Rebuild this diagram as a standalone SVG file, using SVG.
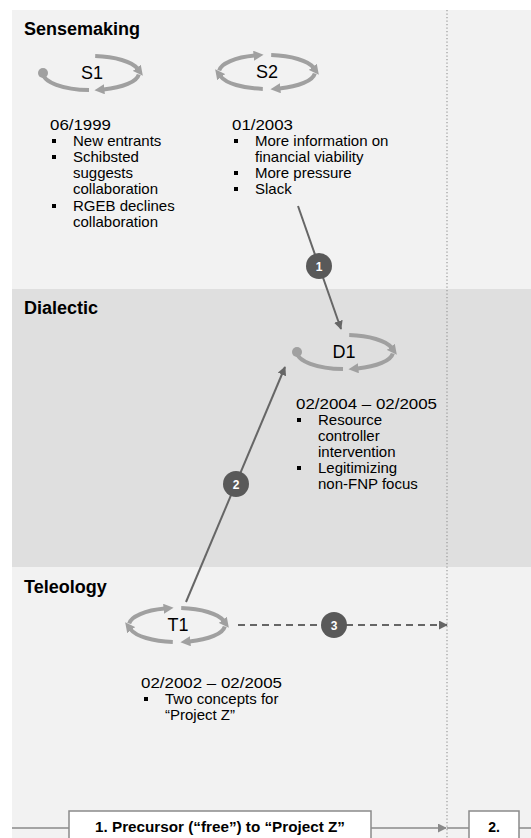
<svg xmlns="http://www.w3.org/2000/svg" width="531" height="838" viewBox="0 0 531 838">
  <style>
    .band-light { fill: #f2f2f2; }
    .band-dark { fill: #dfdfdf; }
    .title { font-family: "Liberation Sans", Arial, sans-serif; font-size: 18px; font-weight: bold; fill: #000; }
    .node-label { font-family: "Liberation Sans", Arial, sans-serif; font-size: 18px; fill: #000; text-anchor: middle; }
    .body { font-family: "Liberation Sans", Arial, sans-serif; font-size: 15px; fill: #000; }
    .bullet { fill: #000; }
    .cycle { fill: none; stroke: #a0a0a0; stroke-width: 4; }
    .cycle-dot { fill: #a0a0a0; }
    .conn { fill: none; stroke: #666; stroke-width: 2; }
    .conn-dash { stroke-dasharray: 7 5; }
    .badge { fill: #595959; }
    .badge-text { font-family: "Liberation Sans", Arial, sans-serif; font-size: 12px; font-weight: bold; fill: #fff; text-anchor: middle; }
    .timeline { fill: none; stroke: #8a8a8a; stroke-width: 1.5; }
    .phase-box { fill: #fff; stroke: #8a8a8a; stroke-width: 1.5; }
    .phase-text { font-family: "Liberation Sans", Arial, sans-serif; font-size: 14px; font-weight: bold; fill: #000; text-anchor: middle; }
    .divider { stroke: #9a9a9a; stroke-width: 1.2; stroke-dasharray: 1.3 2.2; }
  </style>
  <defs>
    <marker id="cycle-head" viewBox="0 0 10 10" refX="1" refY="5" markerWidth="10" markerHeight="10" markerUnits="userSpaceOnUse" orient="auto">
      <path d="M0,0 L10,5 L0,10 z" fill="#a0a0a0"/>
    </marker>
    <marker id="conn-head" viewBox="0 0 10 10" refX="9" refY="5" markerWidth="9" markerHeight="9" markerUnits="userSpaceOnUse" orient="auto">
      <path d="M0,0 L10,5 L0,10 z" fill="#666"/>
    </marker>
    <marker id="time-head" viewBox="0 0 10 10" refX="9" refY="5" markerWidth="9" markerHeight="9" markerUnits="userSpaceOnUse" orient="auto">
      <path d="M0,0 L10,5 L0,10 z" fill="#8a8a8a"/>
    </marker>
    <!-- quarter arcs of a cycle, centred on 0,0 (rx 48, ry 17) -->
    <path id="arc-ul" d="M-47.8,-1.5 A48,17 0 0 1 -12.4,-16.4"/>
    <path id="arc-ur" d="M4.2,-16.9 A48,17 0 0 1 46.4,-4.4"/>
    <path id="arc-lr" d="M47.8,1.5 A48,17 0 0 1 12.4,16.4"/>
    <path id="arc-ll" d="M-4.2,16.9 A48,17 0 0 1 -46.4,4.4"/>
    <path id="arc-ll-open" d="M-2,17 A48,17 0 0 1 -48,0"/>
  </defs>

  <!-- bands -->
  <rect class="band-light" x="12" y="10" width="519" height="279"/>
  <rect class="band-dark" x="12" y="289" width="519" height="278"/>
  <rect class="band-light" x="12" y="567" width="519" height="271"/>

  <line class="divider" x1="447" y1="10" x2="447" y2="838"/>

  <text class="title" x="24" y="35">Sensemaking</text>
  <text class="title" x="24" y="314">Dialectic</text>
  <text class="title" x="24" y="593">Teleology</text>

  <!-- connectors -->
  <g id="connectors">
    <line class="conn" x1="298" y1="206" x2="341" y2="329" marker-end="url(#conn-head)"/>
    <line class="conn" x1="186" y1="602" x2="285" y2="367" marker-end="url(#conn-head)"/>
    <line class="conn conn-dash" x1="238" y1="625" x2="447" y2="625" marker-end="url(#conn-head)"/>
    <circle class="badge" cx="319" cy="266" r="13"/>
    <text class="badge-text" x="319" y="270.5">1</text>
    <circle class="badge" cx="236" cy="484" r="13"/>
    <text class="badge-text" x="236" y="488.5">2</text>
    <circle class="badge" cx="334" cy="625" r="13"/>
    <text class="badge-text" x="334" y="629.5">3</text>
  </g>

  <!-- S1 -->
  <g id="S1">
    <g transform="translate(91,73)">
      <use href="#arc-ur" class="cycle" marker-end="url(#cycle-head)"/>
      <use href="#arc-lr" class="cycle" marker-end="url(#cycle-head)"/>
      <use href="#arc-ll-open" class="cycle"/>
      <circle class="cycle-dot" cx="-48" cy="0" r="5"/>
      <text class="node-label" x="1" y="6">S1</text>
    </g>
    <text class="body" x="50" y="130" textLength="61" lengthAdjust="spacingAndGlyphs">06/1999</text>
    <rect class="bullet" x="52" y="139" width="4" height="4"/>
    <text class="body" x="73" y="146">New entrants</text>
    <rect class="bullet" x="52" y="155" width="4" height="4"/>
    <text class="body" x="73" y="162">Schibsted</text>
    <text class="body" x="73" y="178">suggests</text>
    <text class="body" x="73" y="194">collaboration</text>
    <rect class="bullet" x="52" y="204" width="4" height="4"/>
    <text class="body" x="73" y="211">RGEB declines</text>
    <text class="body" x="73" y="227">collaboration</text>
  </g>

  <!-- S2 -->
  <g id="S2">
    <g transform="translate(267,72)">
      <use href="#arc-ul" class="cycle" marker-end="url(#cycle-head)"/>
      <use href="#arc-ur" class="cycle" marker-end="url(#cycle-head)"/>
      <use href="#arc-lr" class="cycle" marker-end="url(#cycle-head)"/>
      <use href="#arc-ll" class="cycle" marker-end="url(#cycle-head)"/>
      <text class="node-label" x="0" y="6">S2</text>
    </g>
    <text class="body" x="232" y="130" textLength="61" lengthAdjust="spacingAndGlyphs">01/2003</text>
    <rect class="bullet" x="234" y="139" width="4" height="4"/>
    <text class="body" x="255" y="146">More information on</text>
    <text class="body" x="255" y="162">financial viability</text>
    <rect class="bullet" x="234" y="171" width="4" height="4"/>
    <text class="body" x="255" y="178">More pressure</text>
    <rect class="bullet" x="234" y="187" width="4" height="4"/>
    <text class="body" x="255" y="194">Slack</text>
  </g>

  <!-- D1 -->
  <g id="D1">
    <g transform="translate(345,352)">
      <use href="#arc-ur" class="cycle" marker-end="url(#cycle-head)"/>
      <use href="#arc-lr" class="cycle" marker-end="url(#cycle-head)"/>
      <use href="#arc-ll-open" class="cycle"/>
      <circle class="cycle-dot" cx="-48" cy="0" r="5"/>
      <text class="node-label" x="-1" y="6">D1</text>
    </g>
    <text class="body" x="296" y="409" textLength="141" lengthAdjust="spacingAndGlyphs">02/2004 – 02/2005</text>
    <rect class="bullet" x="297" y="418" width="4" height="4"/>
    <text class="body" x="318" y="425">Resource</text>
    <text class="body" x="318" y="441">controller</text>
    <text class="body" x="318" y="457">intervention</text>
    <rect class="bullet" x="297" y="466" width="4" height="4"/>
    <text class="body" x="318" y="473">Legitimizing</text>
    <text class="body" x="318" y="489">non-FNP focus</text>
  </g>

  <!-- T1 -->
  <g id="T1">
    <g transform="translate(177,625)">
      <use href="#arc-ul" class="cycle" marker-end="url(#cycle-head)"/>
      <use href="#arc-ur" class="cycle" marker-end="url(#cycle-head)"/>
      <use href="#arc-lr" class="cycle" marker-end="url(#cycle-head)"/>
      <use href="#arc-ll" class="cycle" marker-end="url(#cycle-head)"/>
      <text class="node-label" x="1" y="6">T1</text>
    </g>
    <text class="body" x="141" y="688" textLength="141" lengthAdjust="spacingAndGlyphs">02/2002 – 02/2005</text>
    <rect class="bullet" x="144" y="697" width="4" height="4"/>
    <text class="body" x="165" y="704">Two concepts for</text>
    <text class="body" x="165" y="720">“Project Z”</text>
  </g>

  <!-- phase timeline -->
  <g id="timeline">
    <line class="timeline" x1="12" y1="828" x2="69" y2="828"/>
    <line class="timeline" x1="371" y1="828" x2="446" y2="828" marker-end="url(#time-head)"/>
    <line class="timeline" x1="447" y1="828" x2="469" y2="828"/>
    <line class="timeline" x1="519" y1="828" x2="531" y2="828"/>
  </g>
  <g id="phase-1">
    <rect class="phase-box" x="69" y="811" width="302" height="40"/>
    <text class="phase-text" x="220" y="832" textLength="250" lengthAdjust="spacingAndGlyphs">1. Precursor (“free”) to “Project Z”</text>
  </g>
  <g id="phase-2">
    <rect class="phase-box" x="469" y="811" width="50" height="40"/>
    <text class="phase-text" x="494" y="832">2.</text>
  </g>
</svg>
